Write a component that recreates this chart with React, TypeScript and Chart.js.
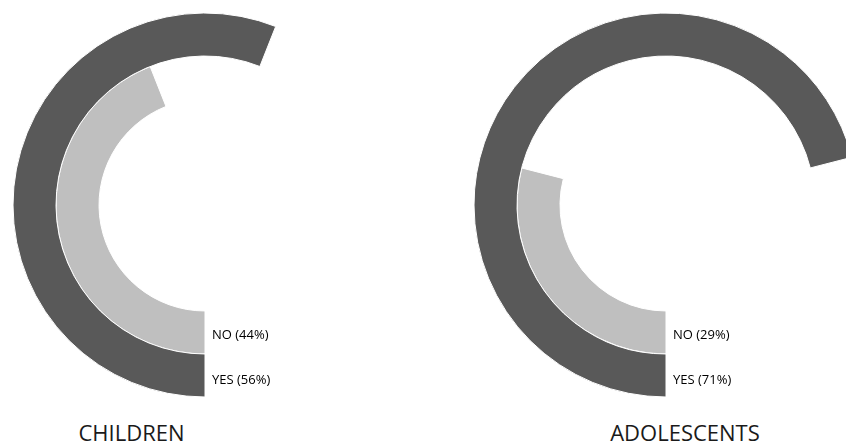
import React, { useEffect, useRef } from "react";
import { Chart, registerables } from "chart.js";

Chart.register(...registerables);

const groups = ["CHILDREN", "ADOLESCENTS"];
const seriesNames = ["YES", "NO"];
const yesValues = [56, 71];
const noValues = [44, 29];

const DARK = "#595959";
const LIGHT = "#bfbfbf";

const centersX = [205, 666];
const centerY = 205;
const titleCenters = [131.5, 685];
const CANVAS = 420;

function Ring({ idx }: { idx: number }) {
  const ref = useRef<HTMLCanvasElement | null>(null);
  useEffect(() => {
    if (!ref.current) return;
    const yes = yesValues[idx];
    const no = noValues[idx];
    const chart = new Chart(ref.current, {
      type: "doughnut",
      data: {
        labels: [seriesNames[0], ""],
        datasets: [
          {
            label: seriesNames[0],
            data: [yes, 100 - yes],
            backgroundColor: [DARK, "rgba(0,0,0,0)"],
            borderColor: ["#ffffff", "rgba(0,0,0,0)"],
            borderWidth: [1, 0],
          },
          {
            label: seriesNames[1],
            data: [no, 100 - no],
            backgroundColor: [LIGHT, "rgba(0,0,0,0)"],
            borderColor: ["#ffffff", "rgba(0,0,0,0)"],
            borderWidth: [1, 0],
          },
        ],
      },
      options: {
        responsive: false,
        maintainAspectRatio: false,
        animation: false,
        events: [],
        rotation: 180,
        radius: 192,
        cutout: "55.2%",
        hoverOffset: 0,
        layout: { padding: 0 },
        plugins: {
          legend: { display: false },
          tooltip: { enabled: false },
          title: { display: false },
        },
      } as any,
    });
    return () => chart.destroy();
  }, [idx]);
  return (
    <canvas
      ref={ref}
      width={CANVAS}
      height={CANVAS}
      style={{
        position: "absolute",
        left: centersX[idx] - CANVAS / 2,
        top: centerY - CANVAS / 2,
        width: CANVAS,
        height: CANVAS,
      }}
    />
  );
}

export default function App() {
  const labelFont = "'Open Sans', sans-serif";
  return (
    <div
      style={{
        position: "fixed",
        left: 0,
        top: 0,
        width: 846,
        height: 445,
        overflow: "hidden",
        background: "#ffffff",
      }}
    >
      {groups.map((g, i) => (
        <React.Fragment key={g}>
          <Ring idx={i} />
          <div
            style={{
              position: "absolute",
              left: centersX[i] + 7,
              top: 325,
              fontFamily: labelFont,
              fontSize: 13,
              lineHeight: "normal",
              color: "#000",
              whiteSpace: "nowrap",
            }}
          >
            {`${seriesNames[1]} (${noValues[i]}%)`}
          </div>
          <div
            style={{
              position: "absolute",
              left: centersX[i] + 7,
              top: 370,
              fontFamily: labelFont,
              fontSize: 13,
              lineHeight: "normal",
              color: "#000",
              whiteSpace: "nowrap",
            }}
          >
            {`${seriesNames[0]} (${yesValues[i]}%)`}
          </div>
          <div
            style={{
              position: "absolute",
              left: titleCenters[i],
              top: 417,
              transform: "translateX(-50%)",
              fontFamily: labelFont,
              fontSize: 22,
              lineHeight: "normal",
              color: "#1a1a1a",
              whiteSpace: "nowrap",
            }}
          >
            {g}
          </div>
        </React.Fragment>
      ))}
    </div>
  );
}
